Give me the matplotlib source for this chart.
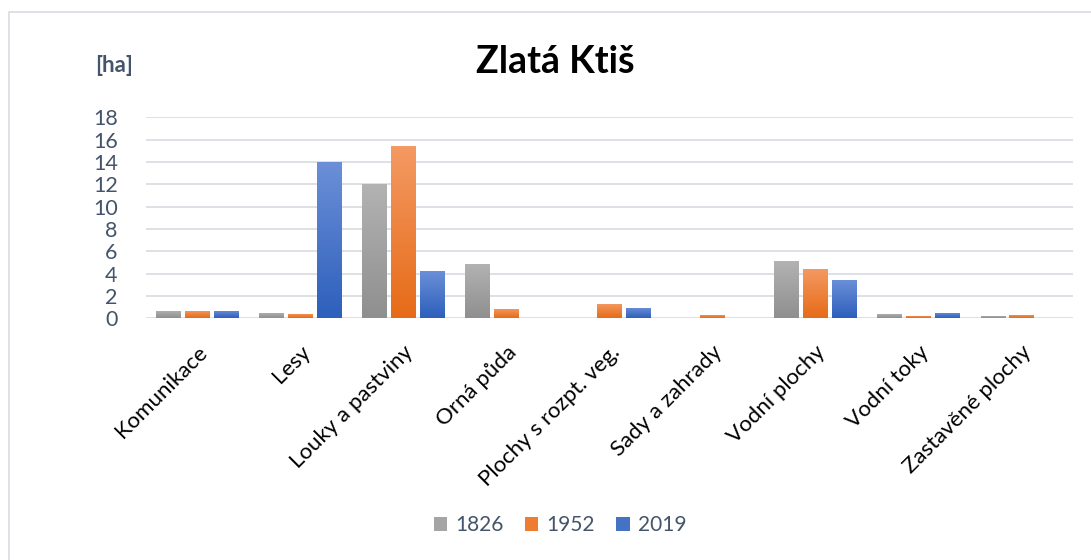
import matplotlib
matplotlib.use("Agg")
import matplotlib.pyplot as plt
import numpy as np
from matplotlib.colors import LinearSegmentedColormap
from matplotlib.patches import Patch, Rectangle

categories = ["Komunikace", "Lesy", "Louky a pastviny", "Orná půda",
              "Plochy s rozpt. veg.", "Sady a zahrady", "Vodní plochy",
              "Vodní toky", "Zastavěné plochy"]
years = ["1826", "1952", "2019"]
v1826 = [0.65, 0.47, 12.0, 4.86, 0.0, 0.0, 5.13, 0.38, 0.2]
v1952 = [0.65, 0.38, 15.42, 0.83, 1.28, 0.3, 4.41, 0.2, 0.3]
v2019 = [0.65, 14.0, 4.23, 0.0, 0.92, 0.0, 3.43, 0.47, 0.0]
series = [v1826, v1952, v2019]

grad = [("#8f8f8f", "#b3b3b3"), ("#e66b17", "#f49a64"), ("#2d5fbc", "#6c90d8")]
solid = ["#a5a5a5", "#ed7d31", "#4472c4"]

W, H = 1091, 560
fig = plt.figure(figsize=(W / 100, H / 100), dpi=100)
ax = fig.add_axes([145.5 / W, 1 - 318.3 / H, (1073 - 145.5) / W, (318.3 - 117.3) / H])

x = np.arange(len(categories))
bw = 0.235
off = 0.28
tick_col = "#44546a"
grid_col = "#dde1e6"

for k, vals in enumerate(series):
    bars = ax.bar(x + (k - 1) * off, vals, width=bw, color=solid[k], zorder=3)
    cmap = LinearSegmentedColormap.from_list("g%d" % k, list(grad[k]))
    for b in bars:
        h = b.get_height()
        if h <= 0:
            continue
        x0 = b.get_x()
        img = ax.imshow(np.linspace(0, 1, 256).reshape(-1, 1), cmap=cmap,
                        origin="lower", aspect="auto",
                        extent=[x0, x0 + b.get_width(), 0, h], zorder=4)
        img.set_clip_path(b)

ax.set_xlim(-0.5, len(categories) - 0.5)
ax.set_ylim(0, 18)
ax.set_yticks(np.arange(0, 19, 2))
ax.yaxis.grid(True, color=grid_col, linewidth=1.4, zorder=0)
ax.set_axisbelow(True)
for s in ax.spines.values():
    s.set_visible(False)
ax.axhline(0, color=grid_col, linewidth=1.4, zorder=2)
ax.tick_params(axis="both", length=0)
ax.tick_params(axis="y", labelsize=15.5, labelcolor=tick_col, pad=20)
ax.set_xticks(x)
ax.set_xticklabels(categories, rotation=45, ha="right", rotation_mode="anchor",
                   fontsize=16, family="Lato", color="black")
ax.tick_params(axis="x", pad=17)
for t in ax.get_yticklabels():
    t.set_family("Lato")

fig.text(555 / W, 1 - 62 / H, "Zlatá Ktiš", ha="center", va="center",
         fontsize=27, fontweight="bold", family="Lato", color="black")
fig.text(114 / W, 1 - 65 / H, "[ha]", ha="center", va="center",
         fontsize=16, fontweight="bold", family="Lato", color=tick_col)

handles = [Patch(facecolor=solid[k], label=years[k]) for k in range(3)]
leg = fig.legend(handles=handles, loc="center", bbox_to_anchor=(560 / W, 1 - 525 / H),
                 ncol=3, frameon=False, prop={"family": "Lato", "size": 15},
                 handlelength=0.65, handleheight=0.65, handletextpad=0.4, columnspacing=1.0)
for t in leg.get_texts():
    t.set_color(tick_col)

fig.add_artist(Rectangle((9 / W, -0.1), 1.2, 1 - 12 / H + 0.1, transform=fig.transFigure,
                         fill=False, edgecolor="#d9dce1", linewidth=1.2))

fig.savefig("out.png", dpi=100)
